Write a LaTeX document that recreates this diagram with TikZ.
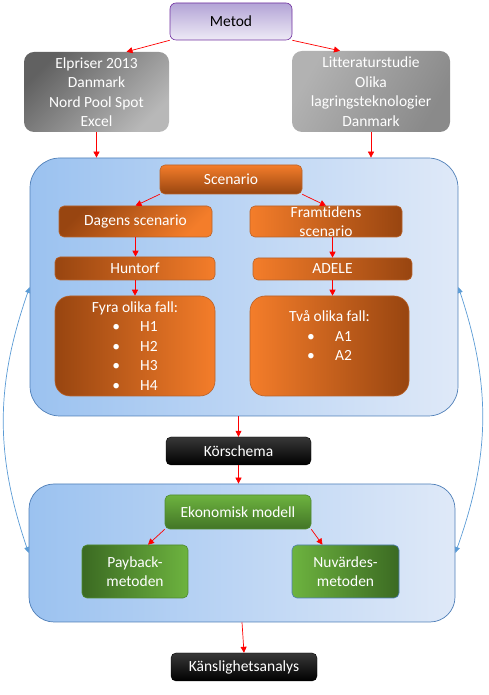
\documentclass[tikz,border=0pt]{standalone}
\usepackage{fontspec}
\setmainfont{Carlito}[Ligatures=NoCommon]
\usetikzlibrary{arrows.meta}
\definecolor{orlys}{HTML}{F47D2A}
\definecolor{ormork}{HTML}{984510}
\definecolor{orkant}{HTML}{B8622A}
\definecolor{grlys}{HTML}{6DB33F}
\definecolor{grmork}{HTML}{3B6A22}
\definecolor{grkant}{HTML}{4E8A30}
\definecolor{bllys}{HTML}{DFE9F8}
\definecolor{blmork}{HTML}{9BC2F0}
\definecolor{blkant}{HTML}{4F7FB8}
\definecolor{lilla}{HTML}{7030A0}
\definecolor{lillamork}{HTML}{B3A4D6}
\definecolor{lillalys}{HTML}{EEEAF6}
\definecolor{bagepil}{HTML}{5B9BD5}

\tikzset{
  kasse/.style={rounded corners=5pt, text=white, align=center, inner xsep=2pt, inner ysep=1pt,
    font=\fontsize{15.5}{19.5}\selectfont},
  orange/.style={kasse, draw=orkant, line width=0.6pt},
  groen/.style={kasse, draw=grkant, line width=0.6pt},
  graa/.style={kasse, rounded corners=10pt},
  sort/.style={kasse, draw=black, top color=black!78, bottom color=black},
  ramme/.style={draw=blkant, line width=0.7pt, left color=blmork, right color=bllys},
  pil/.style={red, line width=0.7pt, -{Triangle[length=6pt,width=6pt]}},
  bue/.style={bagepil, line width=0.7pt, {Triangle[length=6pt,width=5pt]}-{Triangle[length=6pt,width=5pt]}}
}

\begin{document}
\begin{tikzpicture}[x=1pt, y=1pt]
  \useasboundingbox (0,0) rectangle (488,695);

  \node[ramme, rounded corners=30pt, minimum width=428pt, minimum height=258pt] (scen) at (244,408) {};
  \node[ramme, rounded corners=25pt, minimum width=426pt, minimum height=138pt] (econ) at (242,142) {};

  \node[kasse, text=black, draw=lilla, line width=0.6pt, top color=lillamork, bottom color=lillalys,
    rounded corners=6pt, minimum width=122pt, minimum height=37pt] (metod) at (231,673.5) {Metod};
  \node[graa, top color=black!62, bottom color=black!28, shading angle=45,
    minimum width=145pt, minimum height=80pt] (elpris) at (96.5,603) {Elpriser 2013\\Danmark\\Nord Pool Spot\\Excel};
  \node[graa, top color=black!30, bottom color=black!46, shading angle=60,
    minimum width=158pt, minimum height=81pt] (litt) at (371,603.5) {Litteraturstudie\\Olika\\lagringsteknologier\\Danmark};

  \node[orange, top color=orlys, bottom color=ormork, minimum width=142pt, minimum height=29pt] (scenario) at (231,515.5) {Scenario};
  \node[orange, top color=ormork, bottom color=orlys, shading angle=45,
    minimum width=153pt, minimum height=31pt] (dagens) at (135.5,473.5) {Dagens scenario};
  \node[orange, left color=orlys, right color=ormork, inner ysep=0pt,
    minimum width=152pt, minimum height=31pt] (framt) at (326,473.5) {Framtidens\\scenario};
  \node[orange, left color=ormork, right color=orlys, minimum width=160pt, minimum height=23pt] (huntorf) at (135,426.5) {Huntorf};
  \node[orange, left color=orlys, right color=ormork, minimum width=159pt, minimum height=22pt] (adele) at (332.5,426) {ADELE};
  \node[orange, rounded corners=15pt, left color=ormork, right color=orlys,
    minimum width=160pt, minimum height=100pt] (fyra) at (135,349)
    {Fyra olika fall:\\\textbullet\hspace{1.3em}H1\\\textbullet\hspace{1.3em}H2\\\textbullet\hspace{1.3em}H3\\\textbullet\hspace{1.3em}H4};
  \node[orange, rounded corners=15pt, left color=orlys, right color=ormork,
    minimum width=159pt, minimum height=100pt] (tva) at (329.5,349)
    {\\[-9.75pt]Två olika fall:\\\textbullet\hspace{1.3em}A1\\\textbullet\hspace{1.3em}A2\\[0pt]};

  \node[sort, minimum width=145pt, minimum height=28pt] (kor) at (238.5,244) {Körschema};

  \node[groen, top color=grlys, bottom color=grmork!85!grlys, minimum width=146pt, minimum height=34pt] (ekon) at (238,183) {Ekonomisk modell};
  \node[groen, left color=grmork, right color=grlys, minimum width=106pt, minimum height=53pt] (payback) at (135,123.5) {Payback-\\metoden};
  \node[groen, draw=blkant, left color=grlys, right color=grmork, minimum width=107pt, minimum height=53pt] (nuv) at (345.5,123.5) {Nuvärdes-\\metoden};

  \node[sort, minimum width=146pt, minimum height=28pt] (kansl) at (244,28) {Känslighetsanalys};

  \draw[pil] (metod.south west) -- ([xshift=30pt]elpris.north);
  \draw[pil] (metod.south east) -- ([xshift=-31pt]litt.north);
  \draw[pil] (elpris.south) -- (elpris.south |- scen.north);
  \draw[pil] (litt.south) -- (litt.south |- scen.north);
  \draw[pil] (scenario.south west) -- (dagens.north);
  \draw[pil] (scenario.south east) -- (framt.north);
  \draw[pil] (dagens.south) -- (dagens.south |- huntorf.north);
  \draw[pil] (adele.north |- framt.south) -- (adele.north);
  \draw[pil] (huntorf.south) -- (fyra.north);
  \draw[pil] (adele.south) -- (adele.south |- tva.north);
  \draw[pil] (kor.north |- scen.south) -- (kor.north);
  \draw[pil] (kor.south) -- (kor.south |- econ.north);
  \draw[pil] (ekon.south west) -- ([xshift=13pt]payback.north);
  \draw[pil] (ekon.south east) -- ([xshift=-23pt]nuv.north);
  \draw[pil] (econ.south) -- (kansl.north);

  \draw[bue] (scen.west) to[bend right=19] (econ.west);
  \draw[bue] (scen.east) to[bend left=19] (econ.east);
\end{tikzpicture}
\end{document}
